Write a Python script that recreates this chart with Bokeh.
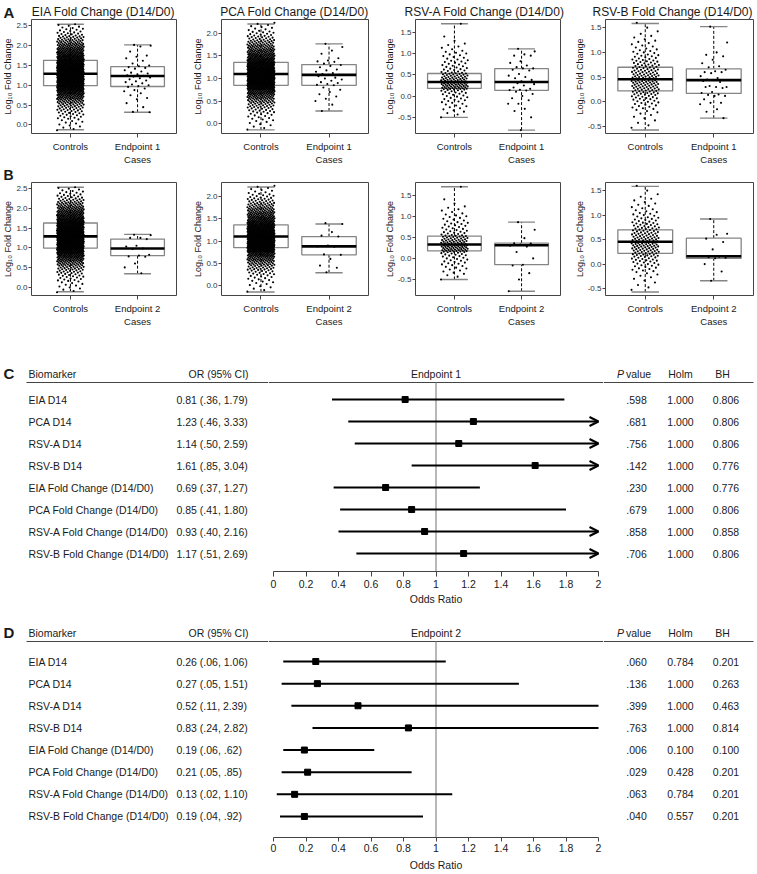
import numpy as np
from bokeh.plotting import figure
from bokeh.layouts import column, row
from bokeh.models import (Range1d, FixedTicker, Arrow, OpenHead, LinearAxis,
                          CustomJSTickFormatter, ColumnDataSource)
from bokeh.core.properties import value
from bokeh.embed import file_html
from bokeh.resources import INLINE

FONT = "Liberation Sans"

# ======================= DATA: box plots (A, B) =======================
box_titles = ["EIA Fold Change (D14/D0)", "PCA Fold Change (D14/D0)",
              "RSV-A Fold Change (D14/D0)", "RSV-B Fold Change (D14/D0)"]
ctrl_label = "Controls"
ep1_label = "Endpoint 1\nCases"
ep2_label = "Endpoint 2\nCases"
y_label = "Log\u2081\u2080 Fold Change"
y_ticks = [[0.0, 0.5, 1.0, 1.5, 2.0, 2.5],
           [0.0, 0.5, 1.0, 1.5, 2.0],
           [-0.5, 0.0, 0.5, 1.0, 1.5],
           [-0.5, 0.0, 0.5, 1.0, 1.5]]
y_limits = [(-0.215, 2.66), (-0.22, 2.31), (-0.88, 1.80), (-0.64, 1.665)]

# Controls (same in A and B): density of points,
# counts per 0.1-wide bin, first bin starting at ctrl_bin_start
ctrl_bin_start = [-0.15, -0.15, -0.55, -0.55]
ctrl_counts_eia = [3, 4, 5, 8, 10, 14, 18, 25, 35, 45, 60, 70, 78, 82, 82, 78, 72, 64,
                   55, 45, 38, 30, 22, 16, 10, 7, 5]
ctrl_counts_pca = [3, 4, 6, 8, 12, 18, 25, 35, 48, 75, 88, 95, 92, 85, 72, 60, 48, 38,
                   30, 22, 15, 10, 6, 4]
ctrl_counts_rsva = [1, 3, 4, 5, 7, 7, 10, 24, 24, 20, 17, 9, 7, 7, 5, 5, 3, 3, 1, 1, 0, 0, 1]
ctrl_counts_rsvb = [2, 2, 3, 4, 7, 9, 12, 16, 19, 21, 19, 17, 14, 12, 9, 7, 5, 4, 3, 2, 1, 1]
ctrl_counts = [ctrl_counts_eia, ctrl_counts_pca, ctrl_counts_rsva, ctrl_counts_rsvb]

# box statistics: [lower whisker, Q1, median, Q3, upper whisker]
ctrl_stats = [[-0.12, 0.99, 1.29, 1.63, 2.54],
              [-0.14, 0.85, 1.10, 1.36, 2.21],
              [-0.50, 0.18, 0.33, 0.53, 1.70],
              [-0.57, 0.22, 0.456, 0.70, 1.585]]
ep1_stats = [[0.32, 0.97, 1.235, 1.47, 2.02],
             [0.28, 0.85, 1.08, 1.31, 1.77],
             [-0.80, 0.135, 0.33, 0.643, 1.11],
             [-0.33, 0.17, 0.44, 0.667, 1.52]]
ep2_stats = [[0.34, 0.80, 0.98, 1.22, 1.34],
             [0.29, 0.69, 0.88, 1.10, 1.38],
             [-0.78, -0.15, 0.31, 0.36, 0.86],
             [-0.34, 0.12, 0.16, 0.53, 0.92]]

ep1_eia = [2.02, 2.0, 1.98, 1.85, 1.75, 1.72, 1.68, 1.62, 1.55, 1.5, 1.48, 1.46, 1.44, 1.42,
           1.38, 1.35, 1.32, 1.3, 1.28, 1.25, 1.24, 1.22, 1.2, 1.18, 1.15, 1.12, 1.1, 1.08,
           1.05, 1.02, 1.0, 0.98, 0.96, 0.92, 0.88, 0.85, 0.8, 0.75, 0.68, 0.65, 0.55, 0.45,
           0.33, 0.32]
ep1_pca = [1.77, 1.7, 1.62, 1.55, 1.45, 1.4, 1.38, 1.37, 1.33, 1.3, 1.28, 1.25, 1.2, 1.18,
           1.15, 1.12, 1.1, 1.08, 1.08, 1.05, 1.02, 1.0, 0.98, 0.95, 0.92, 0.9, 0.88, 0.86,
           0.85, 0.8, 0.75, 0.7, 0.65, 0.6, 0.55, 0.5, 0.42, 0.28]
ep1_rsva = [1.11, 1.05, 0.98, 0.95, 0.95, 0.82, 0.78, 0.72, 0.68, 0.65, 0.65, 0.62, 0.6,
            0.52, 0.48, 0.45, 0.42, 0.38, 0.35, 0.33, 0.33, 0.3, 0.28, 0.25, 0.2, 0.17,
            0.15, 0.14, 0.13, 0.1, 0.05, 0.0, -0.05, -0.1, -0.18, -0.18, -0.3, -0.35,
            -0.5, -0.8]
ep1_rsvb = [1.52, 1.2, 1.0, 0.95, 0.92, 0.85, 0.78, 0.72, 0.7, 0.65, 0.62, 0.6, 0.6, 0.58,
            0.52, 0.48, 0.45, 0.44, 0.44, 0.42, 0.4, 0.32, 0.3, 0.3, 0.3, 0.28, 0.2, 0.18,
            0.15, 0.14, 0.12, 0.12, 0.05, -0.02, -0.02, -0.05, -0.15, -0.2, -0.33]
ep2_eia = [1.33, 1.32, 1.25, 1.25, 1.22, 1.05, 1.03, 0.98, 0.97, 0.82, 0.80, 0.78, 0.77,
           0.6, 0.5, 0.35]
ep2_pca = [1.4, 1.38, 1.2, 1.12, 1.1, 0.9, 0.88, 0.87, 0.7, 0.69, 0.6, 0.45, 0.4, 0.3]
ep2_rsva = [0.86, 0.68, 0.48, 0.36, 0.35, 0.33, 0.3, 0.28, 0.15, 0.0, -0.15, -0.17, -0.35,
            -0.5, -0.78]
ep2_rsvb = [0.92, 0.62, 0.6, 0.52, 0.45, 0.3, 0.16, 0.15, 0.14, 0.13, 0.12, 0.0, -0.15, -0.34]
ep1_values = [ep1_eia, ep1_pca, ep1_rsva, ep1_rsvb]
ep2_values = [ep2_eia, ep2_pca, ep2_rsva, ep2_rsvb]

# ======================= DATA: forest plots (C, D) =======================
biomarkers = ["EIA D14", "PCA D14", "RSV-A D14", "RSV-B D14",
              "EIA Fold Change (D14/D0)", "PCA Fold Change (D14/D0)",
              "RSV-A Fold Change (D14/D0)", "RSV-B Fold Change (D14/D0)"]
ep1_or = [0.81, 1.23, 1.14, 1.61, 0.69, 0.85, 0.93, 1.17]
ep1_lo = [0.36, 0.46, 0.50, 0.85, 0.37, 0.41, 0.40, 0.51]
ep1_hi = [1.79, 3.33, 2.59, 3.04, 1.27, 1.80, 2.16, 2.69]
ep1_p = [0.598, 0.681, 0.756, 0.142, 0.230, 0.679, 0.858, 0.706]
ep1_holm = [1.000, 1.000, 1.000, 1.000, 1.000, 1.000, 1.000, 1.000]
ep1_bh = [0.806, 0.806, 0.806, 0.776, 0.776, 0.806, 0.858, 0.806]
ep2_or = [0.26, 0.27, 0.52, 0.83, 0.19, 0.21, 0.13, 0.19]
ep2_lo = [0.06, 0.05, 0.11, 0.24, 0.06, 0.05, 0.02, 0.04]
ep2_hi = [1.06, 1.51, 2.39, 2.82, 0.62, 0.85, 1.10, 0.92]
ep2_p = [0.060, 0.136, 0.399, 0.763, 0.006, 0.029, 0.063, 0.040]
ep2_holm = [0.784, 1.000, 1.000, 1.000, 0.100, 0.428, 0.784, 0.557]
ep2_bh = [0.201, 0.263, 0.463, 0.814, 0.100, 0.201, 0.201, 0.201]
or_ticks = [0, 0.2, 0.4, 0.6, 0.8, 1, 1.2, 1.4, 1.6, 1.8, 2]
or_axis_max = 2
null_or = 1

# ======================= helpers =======================
TEXT = "#1a1a1a"
GREY = "#444444"
PAGE_W = 757


def jitter(n, center, half=0.2, phase=0.0):
    k = np.arange(n)
    frac = (k * 0.6180339887 + phase) % 1.0
    return center + half * (2 * frac - 1)


def bin_points(start, counts, width=0.1):
    ys = []
    for b, c in enumerate(counts):
        if c:
            lo = start + b * width
            ys.extend(list(lo + width * (np.arange(c) + 0.5) / c))
    return np.array(ys)


def draw_box(p, xc, st, color="#858585"):
    lo, q1, med, q3, hi = st
    p.segment(x0=[xc, xc], y0=[lo, q3], x1=[xc, xc], y1=[q1, hi],
              line_color="black", line_dash="3 2", line_width=1)
    p.segment(x0=[xc - 0.2, xc - 0.2], y0=[lo, hi], x1=[xc + 0.2, xc + 0.2], y1=[lo, hi],
              line_color=color, line_width=1.4)
    p.quad(left=[xc - 0.4], right=[xc + 0.4], bottom=[q1], top=[q3],
           fill_color="white", line_color=color, line_width=1.3)


def draw_median(p, xc, st):
    p.segment(x0=[xc - 0.4], y0=[st[2]], x1=[xc + 0.4], y1=[st[2]],
              line_color="black", line_width=2.6)


widths = [190, 191, 190, 186]
lefts = [29, 30, 32, 34]
rights = [14, 13, 11, 4]


def make_box(i, case_stats, case_vals, case_label, height, bottom):
    p = figure(width=widths[i], height=height, x_range=Range1d(0.42, 2.58),
               y_range=Range1d(*y_limits[i]), output_backend="svg", toolbar_location=None,
               min_border_left=lefts[i], min_border_right=rights[i],
               min_border_top=0, min_border_bottom=bottom)
    p.grid.visible = False
    p.outline_line_color = GREY
    p.outline_line_width = 1
    xa = p.xaxis[0]
    xa.ticker = FixedTicker(ticks=[1, 2])
    xa.major_label_overrides = {1: ctrl_label, 2: case_label}
    xa.axis_line_color = None
    xa.major_tick_line_color = GREY
    xa.major_tick_out = 4
    xa.major_tick_in = 0
    xa.minor_tick_line_color = None
    xa.major_label_text_font = FONT
    xa.major_label_text_font_size = "9.5px"
    xa.major_label_text_color = TEXT
    xa.major_label_standoff = 3
    ya = p.yaxis[0]
    ya.ticker = FixedTicker(ticks=y_ticks[i])
    ya.formatter = CustomJSTickFormatter(code="return tick.toFixed(1)")
    ya.axis_label = y_label
    ya.axis_label_text_font = FONT
    ya.axis_label_text_font_size = "9px"
    ya.axis_label_text_font_style = "normal"
    ya.axis_label_text_color = TEXT
    ya.axis_label_standoff = 0
    ya.axis_line_color = None
    ya.major_tick_line_color = GREY
    ya.major_tick_out = 3
    ya.major_tick_in = 0
    ya.minor_tick_line_color = None
    ya.major_label_text_font = FONT
    ya.major_label_text_font_size = "8px"
    ya.major_label_text_color = "#333333"
    ya.major_label_standoff = 1

    # controls
    draw_box(p, 1, ctrl_stats[i])
    cy = bin_points(ctrl_bin_start[i], ctrl_counts[i])
    p.scatter(x=jitter(len(cy), 1), y=cy, size=2.1, fill_color="black", line_color=None)
    draw_median(p, 1, ctrl_stats[i])
    # cases
    draw_box(p, 2, case_stats[i])
    p.scatter(x=jitter(len(case_vals[i]), 2, phase=0.37), y=case_vals[i], size=2.1,
              fill_color="black", line_color=None)
    draw_median(p, 2, case_stats[i])
    return p


def make_header(h, texts, xs, sizes, styles, aligns, ymid):
    p = figure(width=PAGE_W, height=h, x_range=Range1d(0, PAGE_W), y_range=Range1d(h, 0),
               x_axis_type=None, y_axis_type=None, output_backend="svg",
               toolbar_location=None, min_border=0, outline_line_color=None)
    for t, x, s, st, al in zip(texts, xs, sizes, styles, aligns):
        p.text(x=[x], y=[ymid], text=[t], text_font=value(FONT), text_font_size=s,
               text_font_style=st, text_align=al, text_baseline="middle", text_color=TEXT)
    return p


# ======================= box-plot rows =======================
header_a = make_header(19, ["A"] + box_titles, [3, 103, 294, 484, 672],
                       ["15px"] + ["12px"] * 4, ["bold"] + ["normal"] * 4,
                       ["left"] + ["center"] * 4, 11.5)
row_a = row(*[make_box(i, ep1_stats, ep1_values, ep1_label, 148, 29) for i in range(4)])
header_b = make_header(15, ["B"], [3], ["14px"], ["bold"], ["left"], 7.5)
row_b = row(*[make_box(i, ep2_stats, ep2_values, ep2_label, 147, 30) for i in range(4)])

# ======================= forest plots =======================
OR0_PAGE = 273.0
PX_PER_OR = 162.5
PAD = 5
LEFT_W = int(OR0_PAGE - PAD)                      # 268
MID_W = int(or_axis_max * PX_PER_OR + 2 * PAD)     # 335
RIGHT_W = PAGE_W - LEFT_W - MID_W                 # 154


def fmt_ci(v):
    s = f"{v:.2f}"
    return s[1:] if s.startswith("0") else s


def make_forest(letter, title, ors, los, his, ps, holms, bhs, arrows,
                fig_h, frame_h, row1_rel, unit, header_rel, line_rel, tick_out, lab_off,
                title_off):
    def yi(rel):
        return 1 + (rel - row1_rel) / unit

    bottom = fig_h - frame_h
    yr = Range1d(yi(frame_h), yi(0))
    base = dict(height=fig_h, y_range=yr, x_axis_type=None, y_axis_type=None,
                output_backend="svg", toolbar_location=None, min_border=0,
                min_border_bottom=bottom, outline_line_color=None)
    left = figure(width=LEFT_W, x_range=Range1d(0, LEFT_W), **base)
    mid = figure(width=MID_W, x_range=Range1d(-PAD / PX_PER_OR, or_axis_max + PAD / PX_PER_OR),
                 **base)
    right = figure(width=RIGHT_W, x_range=Range1d(LEFT_W + MID_W, PAGE_W), **base)

    rows = list(np.arange(1, len(biomarkers) + 1))
    hy = yi(header_rel)
    ly = yi(line_rel)
    fs = "10.5px"
    common = dict(text_font=value(FONT), text_font_size=fs, text_baseline="middle",
                  text_color=TEXT)

    # ---- left: letter, biomarker names, OR (95% CI)
    left.text(x=[3], y=[hy], text=[letter], text_font=value(FONT), text_font_size="15px",
              text_font_style="bold", text_baseline="middle", text_color=TEXT)
    left.text(x=[28], y=[hy], text=["Biomarker"], text_align="left", **common)
    left.text(x=[188], y=[hy], text=["OR (95% CI)"], text_align="left", **common)
    left.segment(x0=[26], y0=[ly], x1=[LEFT_W], y1=[ly], line_color=GREY, line_width=1)
    left.text(x=28, y=rows, text=biomarkers, text_align="left", **common)
    or_txt = [f"{o:.2f} ({fmt_ci(l)}, {fmt_ci(h)})" for o, l, h in zip(ors, los, his)]
    left.text(x=176, y=rows, text=or_txt, text_align="left", **common)

    # ---- middle: forest
    mid.text(x=[null_or], y=[hy], text=[title], text_align="center", **common)
    mid.segment(x0=[mid.x_range.start], y0=[ly], x1=[mid.x_range.end], y1=[ly],
                line_color=GREY, line_width=1)
    mid.segment(x0=[null_or], y0=[ly], x1=[null_or], y1=[yi(frame_h)], line_color="#8a8a8a",
                line_width=1.2)
    seg_idx = [k for k in range(len(rows)) if not (arrows and his[k] > or_axis_max)]
    arr_idx = [k for k in range(len(rows)) if arrows and his[k] > or_axis_max]
    mid.segment(x0=[los[k] for k in seg_idx], y0=[rows[k] for k in seg_idx],
                x1=[min(his[k], or_axis_max) for k in seg_idx], y1=[rows[k] for k in seg_idx],
                line_color="black", line_width=2)
    if arr_idx:
        src = ColumnDataSource(dict(x0=[los[k] for k in arr_idx],
                                    x1=[or_axis_max] * len(arr_idx),
                                    y=[rows[k] for k in arr_idx]))
        mid.add_layout(Arrow(end=OpenHead(size=9, line_width=2, line_color="black"),
                             x_start="x0", y_start="y", x_end="x1", y_end="y",
                             line_width=2, line_color="black", source=src))
    mid.scatter(x=ors, y=rows, marker="square", size=6, fill_color="black",
                line_color="black")
    ax = LinearAxis(bounds=(0, or_axis_max), ticker=FixedTicker(ticks=or_ticks),
                    formatter=CustomJSTickFormatter(code="return String(tick)"),
                    axis_label="Odds Ratio")
    ax.axis_line_color = GREY
    ax.major_tick_line_color = GREY
    ax.major_tick_out = tick_out
    ax.major_tick_in = 0
    ax.minor_tick_line_color = None
    ax.major_label_text_font = FONT
    ax.major_label_text_font_size = fs
    ax.major_label_text_color = TEXT
    ax.major_label_standoff = lab_off
    ax.axis_label_text_font = FONT
    ax.axis_label_text_font_size = fs
    ax.axis_label_text_font_style = "normal"
    ax.axis_label_text_color = TEXT
    ax.axis_label_standoff = title_off
    mid.add_layout(ax, "below")

    # ---- right: P value, Holm, BH
    right.text(x=[623.5], y=[hy], text=["P"], text_align="right", text_font_style="italic",
               **common)
    right.text(x=[625.5], y=[hy], text=["value"], text_align="left", **common)
    right.text(x=[680], y=[hy], text=["Holm"], text_align="center", **common)
    right.text(x=[722], y=[hy], text=["BH"], text_align="center", **common)
    right.segment(x0=[LEFT_W + MID_W], y0=[ly], x1=[753], y1=[ly], line_color=GREY,
                  line_width=1)
    right.text(x=636, y=rows, text=[f"{v:.3f}"[1:] for v in ps], text_align="center",
               **common)
    right.text(x=680, y=rows, text=[f"{v:.3f}" for v in holms], text_align="center",
               **common)
    right.text(x=725.5, y=rows, text=[f"{v:.3f}" for v in bhs], text_align="center",
               **common)
    return row(left, mid, right)


forest_c = make_forest("C", "Endpoint 1", ep1_or, ep1_lo, ep1_hi, ep1_p, ep1_holm, ep1_bh,
                       True, 280, 242, 70, 22.0, 44, 53, 5, 3, 2)
forest_d = make_forest("D", "Endpoint 2", ep2_or, ep2_lo, ep2_hi, ep2_p, ep2_holm, ep2_bh,
                       False, 264, 228, 52, 22.14, 23, 32, 4, 2, 4)

layout = column(header_a, row_a, header_b, row_b, forest_c, forest_d)
open("out.html", "w").write(file_html(layout, INLINE))
